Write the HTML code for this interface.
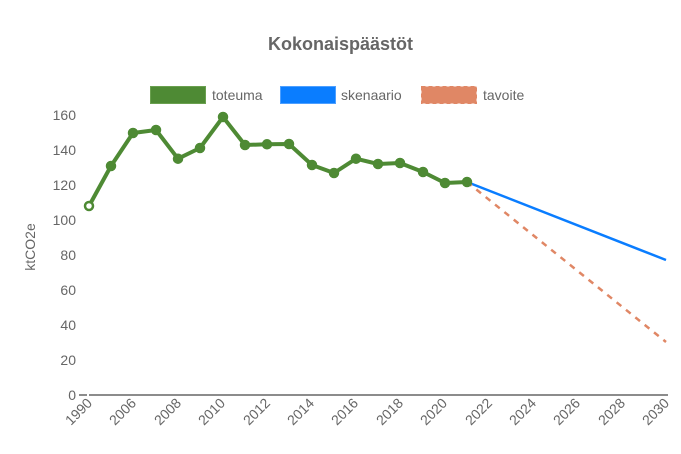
<!DOCTYPE html>
<html><head><meta charset="utf-8"><style>
html,body{margin:0;padding:0;background:#fff;}
svg{display:block;font-family:"Liberation Sans",Arial,sans-serif;}
</style></head><body>
<svg width="681" height="454" viewBox="0 0 681 454">
<text x="340.5" y="50" text-anchor="middle" font-size="18" font-weight="bold" fill="#666">Kokonaispäästöt</text>
<rect x="150.5" y="86.5" width="55" height="17" fill="#4e8a34" stroke="#6aa04f" stroke-width="1"/>
<text x="212" y="100" font-size="14" fill="#666">toteuma</text>
<rect x="280.5" y="86.5" width="55" height="17" fill="#0a7dff" stroke="#4d9fff" stroke-width="1"/>
<text x="341" y="100" font-size="14" fill="#666">skenaario</text>
<rect x="421.5" y="86.5" width="55" height="17" fill="#e08765" stroke="#e08765" stroke-width="1" stroke-dasharray="4,3"/>
<text x="483" y="100" font-size="14" fill="#666">tavoite</text>
<g font-size="14" fill="#666" text-anchor="end">
<text x="76" y="400">0</text>
<text x="76" y="365">20</text>
<text x="76" y="330">40</text>
<text x="76" y="295">60</text>
<text x="76" y="260">80</text>
<text x="76" y="225">100</text>
<text x="76" y="190">120</text>
<text x="76" y="155">140</text>
<text x="76" y="120">160</text>
</g>
<text transform="translate(35,247) rotate(-90)" text-anchor="middle" font-size="14" fill="#666">ktCO2e</text>
<line x1="79" y1="395" x2="87" y2="395" stroke="#666" stroke-width="1.5"/>
<line x1="89" y1="395" x2="668" y2="395" stroke="#666" stroke-width="1.5"/>
<g font-size="14" fill="#666" text-anchor="end">
<text transform="translate(93,404) rotate(-45)">1990</text>
<text transform="translate(137,404) rotate(-45)">2006</text>
<text transform="translate(182,404) rotate(-45)">2008</text>
<text transform="translate(226,404) rotate(-45)">2010</text>
<text transform="translate(271,404) rotate(-45)">2012</text>
<text transform="translate(315,404) rotate(-45)">2014</text>
<text transform="translate(359,404) rotate(-45)">2016</text>
<text transform="translate(404,404) rotate(-45)">2018</text>
<text transform="translate(448,404) rotate(-45)">2020</text>
<text transform="translate(493,404) rotate(-45)">2022</text>
<text transform="translate(537,404) rotate(-45)">2024</text>
<text transform="translate(581,404) rotate(-45)">2026</text>
<text transform="translate(626,404) rotate(-45)">2028</text>
<text transform="translate(670,404) rotate(-45)">2030</text>
</g>
<line x1="467" y1="182" x2="666" y2="260" stroke="#0a7dff" stroke-width="2.5"/>
<line x1="467" y1="182" x2="666" y2="342" stroke="#e08765" stroke-width="2.5" stroke-dasharray="6,6"/>
<polyline fill="none" stroke="#4e8a34" stroke-width="4" stroke-linejoin="round" points="89,206 111,166 133,133 156,130 178,158.7 200,148 223,117 245,145 267,144.3 289,144 312,165 334,173 356,158.7 378,164 400,163 423,172 445,183 467,182"/>
<g fill="#4e8a34" stroke="#4e8a34" stroke-width="2.5">
<circle cx="111" cy="166" r="4"/><circle cx="133" cy="133" r="4"/><circle cx="156" cy="130" r="4"/><circle cx="178" cy="158.7" r="4"/><circle cx="200" cy="148" r="4"/><circle cx="223" cy="117" r="4"/><circle cx="245" cy="145" r="4"/><circle cx="267" cy="144.3" r="4"/><circle cx="289" cy="144" r="4"/><circle cx="312" cy="165" r="4"/><circle cx="334" cy="173" r="4"/><circle cx="356" cy="158.7" r="4"/><circle cx="378" cy="164" r="4"/><circle cx="400" cy="163" r="4"/><circle cx="423" cy="172" r="4"/><circle cx="445" cy="183" r="4"/>
</g>
<circle cx="89" cy="206" r="4" fill="#fff" stroke="#4e8a34" stroke-width="2.5"/>
<circle cx="467" cy="182" r="4" fill="#4e8a34" stroke="#4e8a34" stroke-width="2.5"/>
</svg>
</body></html>
